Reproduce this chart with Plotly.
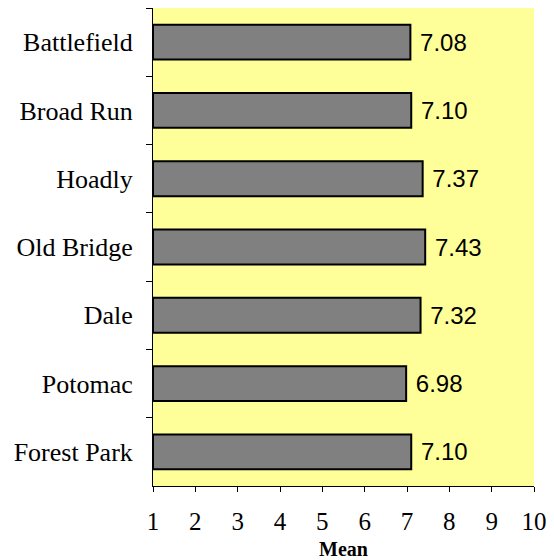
import plotly.graph_objects as go

categories = ["Battlefield", "Broad Run", "Hoadly", "Old Bridge", "Dale", "Potomac", "Forest Park"]
means = [7.08, 7.10, 7.37, 7.43, 7.32, 6.98, 7.10]
labels = ["7.08", "7.10", "7.37", "7.43", "7.32", "6.98", "7.10"]
x_ticks = [1, 2, 3, 4, 5, 6, 7, 8, 9, 10]

fig = go.Figure(go.Bar(
    y=categories, x=[m - 1 for m in means], base=1, orientation="h",
    marker=dict(color="#808080", line=dict(color="black", width=2)),
    width=0.51,
    text=["\u00a0" + l for l in labels], textposition="outside", cliponaxis=False,
    textfont=dict(family="Liberation Sans, Arial", size=24, color="black"),
))

# page body has an 8px margin, so the figure is offset by 8px in x and y
fig.update_layout(
    width=546, height=552,
    margin=dict(l=145, r=20, t=0, b=74),
    plot_bgcolor="#FFFF99", paper_bgcolor="white",
    showlegend=False,
    xaxis=dict(range=[1, 10], tickvals=x_ticks, ticks="outside", ticklen=5,
               tickcolor="black", showline=True, linecolor="black", linewidth=1,
               showgrid=False, zeroline=False, ticklabelstandoff=8,
               tickfont=dict(family="Liberation Serif, Times New Roman", size=25, color="black"),
               title=dict(text="<b>Mean</b>", standoff=8,
                          font=dict(family="Liberation Serif, Times New Roman", size=20, color="black"))),
    yaxis=dict(autorange="reversed", ticks="outside", ticklen=6, tickson="boundaries",
               tickcolor="black", showline=True, linecolor="black", linewidth=1,
               showgrid=False, zeroline=False, ticklabelstandoff=14,
               tickfont=dict(family="Liberation Serif, Times New Roman", size=26, color="black")),
)

fig.write_html("out.html")
